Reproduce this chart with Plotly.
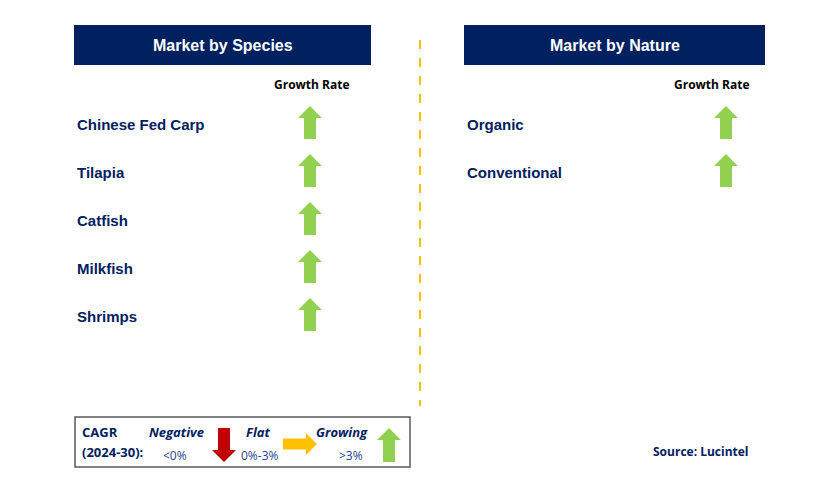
import plotly.graph_objects as go

# Data
species = ["Chinese Fed Carp", "Tilapia", "Catfish", "Milkfish", "Shrimps"]
species_trend = ["up", "up", "up", "up", "up"]
nature = ["Organic", "Conventional"]
nature_trend = ["up", "up"]

legend_labels = ["Negative", "Flat", "Growing"]
legend_ranges = ["<0%", "0%-3%", ">3%"]
legend_trend = ["down", "flat", "up"]

NAVY = "#002060"
COLORS = {"up": "#92D050", "down": "#C00000", "flat": "#FFC000"}
ARIAL = "Liberation Sans, Arial"
CALIBRI = "Open Sans, Noto Sans"

W, H = 829, 494
OFF = 8  # page body margin in the written html


def arrow_poly(cx, cy, direction, length=33, width=24, shaft=12, head=12):
    """Block arrow polygon centred at (cx, cy), pixel coords (y down)."""
    L, hw, sw = length / 2, width / 2, shaft / 2
    # pointing up, then rotate
    pts = [(-sw, L), (-sw, -L + head), (-hw, -L + head), (0, -L),
           (hw, -L + head), (sw, -L + head), (sw, L), (-sw, L)]
    if direction == "down":
        pts = [(x, -y) for x, y in pts]
    elif direction == "flat":
        pts = [(-y, x) for x, y in pts]
    xs = [cx + p[0] for p in pts]
    ys = [cy + p[1] for p in pts]
    return xs, ys


def add_arrow(fig, cx, cy, direction, **kw):
    xs, ys = arrow_poly(cx, cy, direction, **kw)
    fig.add_trace(go.Scatter(x=xs, y=ys, mode="lines", fill="toself",
                             fillcolor=COLORS[direction], line=dict(width=0),
                             hoverinfo="skip", showlegend=False))


def add_panel(fig, title, items, trends, x0, x1, label_x, arrow_x, growth_x):
    fig.add_shape(type="rect", x0=x0, x1=x1, y0=25, y1=65,
                  fillcolor=NAVY, line=dict(width=0), layer="below")
    fig.add_annotation(x=(x0 + x1) / 2, y=45, text=f"<b>{title}</b>",
                       font=dict(family=ARIAL, size=16, color="white"))
    fig.add_annotation(x=growth_x, y=84, text="<b>Growth Rate</b>",
                       font=dict(family=CALIBRI, size=12, color="black"))
    for i, (name, trend) in enumerate(zip(items, trends)):
        y = 124 + 48 * i
        fig.add_annotation(x=label_x, y=y, text=f"<b>{name}</b>", xanchor="left",
                           font=dict(family=ARIAL, size=15, color=NAVY))
        add_arrow(fig, arrow_x, y - 1.5, trend)


fig = go.Figure()

add_panel(fig, "Market by Species", species, species_trend, 74, 371, 75, 310, 312)
add_panel(fig, "Market by Nature", nature, nature_trend, 464, 765, 465, 726, 712)

# divider
fig.add_shape(type="line", x0=420, x1=420, y0=40, y1=406,
              line=dict(color="#FFC000", width=2, dash="dash"))

# legend box
fig.add_shape(type="rect", x0=75, x1=410, y0=417, y1=467,
              line=dict(color="#595959", width=1.5), fillcolor="white", layer="below")
fig.add_annotation(x=80, y=432, text="<b>CAGR</b>", xanchor="left",
                   font=dict(family=CALIBRI, size=13, color=NAVY))
fig.add_annotation(x=80, y=452, text="<b>(2024-30):</b>", xanchor="left",
                   font=dict(family=CALIBRI, size=13, color=NAVY))

label_x = [176, 258, 342]
range_x = [175, 260, 351]
arrow_pos = [(224, 445), (300, 444), (389, 445)]
for lab, rng, tr, lx, rx, (ax, ay) in zip(legend_labels, legend_ranges, legend_trend,
                                          label_x, range_x, arrow_pos):
    fig.add_annotation(x=lx, y=432, text=f"<b><i>{lab}</i></b>",
                       font=dict(family=CALIBRI, size=13, color=NAVY))
    fig.add_annotation(x=rx, y=455, text=rng,
                       font=dict(family=CALIBRI, size=12, color="#1F3F8F"))
    if tr == "flat":
        add_arrow(fig, ax, ay, tr, length=34, width=22, shaft=11, head=11)
    else:
        add_arrow(fig, ax, ay, tr, length=34, width=24, shaft=12, head=12)

fig.add_annotation(x=701, y=451, text="<b>Source: Lucintel</b>",
                   font=dict(family=CALIBRI, size=12, color=NAVY))

fig.update_layout(
    width=W, height=H,
    margin=dict(l=0, r=0, t=0, b=0),
    paper_bgcolor="white", plot_bgcolor="white",
    xaxis=dict(range=[OFF, W + OFF], visible=False, fixedrange=True),
    yaxis=dict(range=[H + OFF, OFF], visible=False, fixedrange=True),
    showlegend=False,
)
for a in fig.layout.annotations:
    a.showarrow = False

fig.write_html("out.html")
